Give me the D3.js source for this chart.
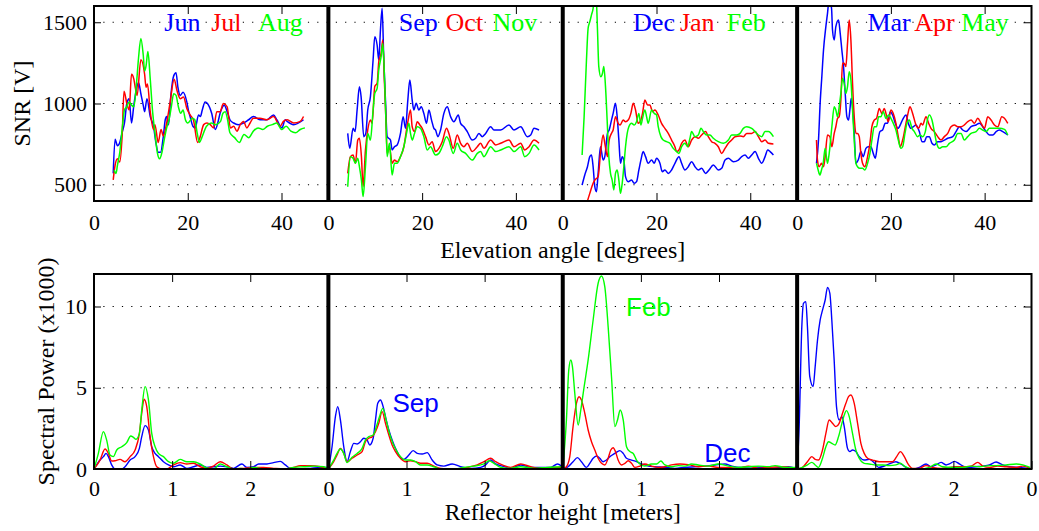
<!DOCTYPE html>
<html>
<head>
<meta charset="utf-8">
<script src="https://cdn.jsdelivr.net/npm/d3@7/dist/d3.min.js"></script>
<style>
  html, body { margin: 0; padding: 0; background: #fff; }
  svg { display: block; }
</style>
</head>
<body>
<svg id="chart" width="1039" height="531"></svg>
<script>
// ---------------- DATA ----------------
const panelMonths = [["Jun","Jul","Aug"],["Sep","Oct","Nov"],["Dec","Jan","Feb"],["Mar","Apr","May"]];
const seriesColors = ["#0000ff","#ff0000","#00ff00"];
const snrTicks = [500, 1000, 1500];
const elevTicks = [0, 20, 40];
const powTicks = [0, 5, 10];
const heightTicks = [0, 1, 2];

// SNR [V] vs elevation angle [deg]
const junSNR = [[4.1,570],[4.5,780],[5,740],[5.5,760],[6,820],[6.5,880],[7,1000],[7.5,1030],[8,880],[8.5,990],[9,1080],[9.5,1130],[10,1060],[10.5,990],[10.8,950],[11.3,1030],[12,920],[12.7,860],[13.2,760],[13.7,700],[14.2,700],[14.8,800],[15.2,900],[15.5,920],[15.9,870],[16.4,1050],[17,1170],[17.5,1190],[17.9,1100],[18.4,1050],[19,1070],[19.8,1010],[20.2,950],[20.5,920],[21.1,860],[21.6,850],[22.3,930],[22.7,920],[23.1,960],[23.7,1010],[24.2,1000],[25.1,940],[25.9,840],[26.4,880],[26.9,940],[27.8,990],[28.4,950],[29,900],[29.8,880],[30.8,870],[31.9,880],[33,900],[34,920],[35.4,900],[36.9,900],[38.3,930],[39,900],[40.1,850],[40.8,900],[41.2,890],[42.6,870],[44.7,900]];
const julSNR = [[4.1,530],[4.5,620],[5,660],[5.5,640],[6,800],[6.4,1075],[7,1000],[7.5,960],[8,1180],[8.5,1150],[8.8,1100],[9.2,1050],[10,1270],[10.8,1180],[11.1,1100],[11.4,1120],[12,950],[12.7,840],[13,870],[13.7,760],[14.3,840],[14.8,800],[15.5,880],[16.2,1000],[17.1,1150],[17.7,1080],[18.4,1030],[19.1,1040],[19.8,970],[20.5,930],[21.2,900],[22.1,760],[22.6,790],[23.4,870],[24.1,880],[24.8,870],[25.5,850],[26.2,950],[26.9,950],[27.6,1000],[28.4,980],[29.1,850],[29.8,860],[30.5,830],[31.2,870],[31.9,890],[32.6,850],[33.3,880],[34,910],[35.4,910],[36.9,900],[38.3,920],[39.7,860],[40.4,890],[41.2,900],[42.6,880],[44,890],[44.7,920]];
const augSNR = [[4.3,590],[4.7,570],[5,620],[5.5,700],[6,840],[6.5,960],[7,980],[7.5,1010],[8,990],[8.5,980],[9,1100],[9.5,1280],[10,1400],[10.5,1300],[10.8,1200],[11.1,1230],[11.5,1320],[12,1150],[12.5,950],[13,820],[13.5,700],[14,660],[14.5,700],[15,780],[15.5,850],[16,900],[16.5,980],[17,1060],[17.5,1050],[18,980],[18.5,940],[19,960],[19.5,900],[20,880],[21,910],[21.5,900],[22,820],[22.5,760],[23,790],[24,860],[25,880],[26,870],[27,890],[27.5,940],[28,950],[28.5,900],[29,820],[30,790],[31,760],[32,810],[33,790],[34,830],[35,850],[36,840],[37,860],[38,870],[39,880],[40,840],[41,860],[42,830],[43,820],[44,840],[45,850]];
const sepSNR = [[4.13,816],[4.56,724],[5.27,847],[5.7,827],[6.13,960],[6.62,1103],[6.98,1042],[7.55,796],[7.98,816],[8.4,960],[8.97,1042],[9.54,1268],[9.9,1411],[10.4,1360],[10.75,1268],[11.11,1452],[11.47,1586],[11.82,1268],[12.18,1021],[12.54,796],[13.25,775],[13.6,714],[14.1,734],[14.67,745],[15.38,816],[15.95,919],[16.45,847],[16.95,1021],[17.38,1145],[17.88,1021],[18.23,960],[18.73,1001],[19.3,960],[19.8,980],[20.37,939],[20.94,878],[21.44,960],[22.01,898],[22.51,847],[22.86,837],[23.36,796],[23.93,837],[24.64,939],[25.36,980],[26.07,919],[26.78,888],[27.71,929],[28.21,878],[28.92,857],[29.63,827],[30.7,775],[31.41,786],[32.12,816],[32.83,796],[33.55,816],[34.62,857],[35.33,837],[36.75,837],[38.53,868],[39.6,837],[41.03,857],[42.45,796],[43.16,806],[43.87,847],[44.94,837]];
const octSNR = [[4.13,570],[4.7,673],[5.27,683],[5.77,632],[6.27,775],[6.62,786],[7.05,673],[7.41,488],[7.91,714],[8.4,837],[8.97,898],[9.33,878],[9.9,1104],[10.4,1124],[10.75,1257],[11.25,1309],[11.61,1391],[11.97,1124],[12.25,919],[12.54,693],[13.03,734],[13.6,632],[14.1,652],[14.67,642],[15.38,673],[16.1,734],[16.67,837],[17.02,898],[17.52,960],[17.88,857],[18.38,827],[18.95,888],[19.52,868],[20.01,847],[20.73,796],[21.44,745],[22.15,765],[22.86,704],[23.58,724],[24.29,765],[25.21,847],[25.71,816],[26.64,724],[27.49,806],[28.21,755],[28.92,734],[29.63,755],[30.7,704],[31.77,734],[32.48,755],[33.19,724],[34.62,775],[35.68,745],[36.75,755],[38.53,775],[39.6,734],[41.03,755],[41.88,714],[42.81,734],[43.87,775],[44.94,755]];
const novSNR = [[4.13,488],[4.7,673],[5.27,663],[5.77,632],[6.27,663],[6.62,611],[7.05,529],[7.41,427],[7.91,611],[8.4,816],[8.97,775],[9.54,960],[9.9,1062],[10.4,1093],[10.75,1206],[11.25,1288],[11.61,1370],[11.97,1165],[12.32,857],[12.54,673],[13.03,755],[13.6,560],[14.1,632],[14.67,632],[15.38,673],[16.1,734],[16.67,816],[17.17,878],[17.52,816],[17.88,775],[18.38,816],[18.95,857],[19.66,847],[20.37,796],[21.08,714],[21.79,734],[22.86,683],[23.58,693],[24.29,734],[25.21,796],[25.71,775],[26.64,693],[27.49,755],[28.21,714],[29.27,693],[30.7,652],[31.77,693],[32.48,704],[33.19,673],[34.62,734],[35.68,704],[36.75,714],[38.53,734],[39.6,704],[41.03,734],[41.88,673],[42.81,693],[43.87,745],[44.94,714]];
const decSNR = [[4.13,498],[4.7,560],[5.27,611],[5.77,673],[6.13,683],[6.48,611],[6.84,488],[7.19,457],[7.55,570],[8.05,734],[8.62,652],[8.97,673],[9.54,816],[9.9,837],[10.4,898],[10.75,939],[11.25,1001],[11.61,919],[11.97,775],[12.32,632],[12.68,673],[13.03,652],[13.39,550],[13.96,519],[14.67,529],[15.24,509],[15.74,519],[16.24,591],[16.67,652],[17.17,704],[17.66,673],[18.23,632],[18.95,652],[19.52,632],[20.01,663],[20.73,632],[21.23,580],[21.79,591],[22.51,570],[23.22,591],[23.93,632],[24.79,673],[25.36,632],[26.07,591],[26.78,611],[27.49,642],[28.21,611],[28.92,591],[29.63,601],[30.48,570],[31.2,591],[32.12,622],[33.19,591],[33.9,601],[34.62,652],[35.33,663],[36.4,642],[37.46,652],[38.18,673],[38.89,683],[39.6,663],[40.31,683],[41.03,704],[41.74,663],[42.45,632],[43.16,673],[43.73,714],[44.23,704],[44.94,683]];
const janSNR = [[5.06,380],[5.77,447],[6.48,509],[6.84,529],[7.55,550],[8.05,693],[8.62,806],[8.97,755],[9.54,673],[9.9,775],[10.4,816],[10.75,837],[11.25,919],[11.82,878],[12.25,868],[12.89,898],[13.39,888],[13.96,898],[14.53,939],[15.03,1001],[15.53,960],[16.1,878],[16.67,898],[17.02,939],[17.52,1021],[18.09,991],[18.59,991],[19.16,950],[19.66,960],[20.37,929],[21.08,878],[21.79,847],[22.51,816],[23.22,775],[23.93,734],[24.29,704],[24.79,714],[25.36,755],[26.07,775],[26.78,734],[27.49,775],[28.21,796],[28.92,786],[29.63,806],[30.48,827],[31.05,796],[31.77,765],[32.48,755],[33.19,734],[33.9,693],[34.62,724],[35.33,755],[36.04,775],[36.75,796],[37.82,800],[38.53,796],[39.25,816],[40.31,816],[41.03,827],[41.74,796],[42.45,765],[43.16,775],[43.87,755],[44.94,751]];
const febSNR = [[4.13,683],[4.56,919],[5.06,1268],[5.41,1462],[5.77,1503],[6.13,1545],[6.48,1586],[6.7,1640],[7.19,1616],[7.41,1452],[7.69,1227],[8.12,1165],[8.48,1186],[8.76,1227],[9.12,1104],[9.47,898],[9.83,673],[10.19,570],[10.54,529],[10.9,468],[11.25,570],[11.61,591],[11.97,529],[12.32,447],[12.68,509],[13.03,611],[13.39,734],[13.75,816],[14.1,857],[14.67,878],[15.24,868],[15.74,888],[16.24,939],[16.67,868],[17.02,909],[17.52,960],[17.88,919],[18.23,878],[18.95,960],[19.52,939],[20.01,929],[20.37,857],[20.94,796],[21.44,775],[22.15,765],[22.86,755],[23.58,724],[24.29,704],[24.79,693],[25.36,734],[26.07,755],[26.64,734],[27.14,786],[27.49,827],[28.21,796],[28.92,806],[29.49,847],[29.99,827],[30.7,806],[31.41,806],[32.12,786],[33.19,765],[34.26,755],[35.33,775],[36.04,806],[37.11,806],[37.82,816],[38.53,847],[39.25,857],[40.31,847],[41.03,827],[41.74,806],[42.45,796],[43.16,827],[43.87,827],[44.94,796]];
const marSNR = [[4.13,632],[4.56,775],[4.91,1001],[5.27,1165],[5.63,1329],[6.13,1473],[6.48,1555],[6.84,1640],[7.34,1586],[7.55,1452],[7.91,1391],[8.26,1473],[8.83,1514],[9.19,1432],[9.54,1329],[9.9,1227],[10.26,1062],[10.61,919],[10.97,898],[11.25,960],[11.54,1032],[11.82,980],[12.18,816],[12.54,632],[13.03,652],[13.6,704],[14.1,673],[14.67,724],[15.17,734],[15.74,734],[16.24,693],[16.67,663],[17.17,755],[17.66,827],[18.23,837],[18.8,878],[19.3,878],[19.87,950],[20.37,929],[20.94,878],[21.51,847],[22.15,878],[22.65,909],[23.22,929],[23.72,878],[24.29,847],[24.79,857],[25.36,868],[26.07,827],[26.64,765],[27.14,765],[27.64,796],[28.21,796],[28.77,755],[29.27,745],[29.99,765],[30.7,765],[31.41,775],[32.12,786],[33.19,796],[33.9,827],[34.62,857],[35.33,837],[36.04,827],[37.11,857],[38.18,868],[38.89,878],[39.6,857],[40.31,827],[41.03,806],[41.74,806],[42.45,827],[43.16,837],[43.87,827],[44.94,806]];
const aprSNR = [[4.13,775],[4.34,652],[4.7,611],[5.2,632],[5.63,611],[5.98,673],[6.48,806],[6.98,796],[7.41,734],[7.91,816],[8.26,857],[8.62,909],[8.97,919],[9.33,1021],[9.69,1247],[10.04,1247],[10.4,1227],[10.75,1370],[11.11,1514],[11.47,1391],[11.82,1124],[12.18,919],[12.54,816],[12.89,816],[13.25,796],[13.6,693],[13.96,632],[14.46,611],[15.03,673],[15.53,755],[15.95,857],[16.45,898],[16.95,909],[17.52,970],[18.09,939],[18.59,970],[18.95,939],[19.44,888],[20.01,960],[20.51,939],[21.08,878],[21.58,796],[22.01,734],[22.51,775],[23.22,878],[23.58,929],[24.07,980],[24.64,939],[25.36,868],[25.93,847],[26.42,878],[26.78,868],[27.49,919],[28.06,878],[28.56,847],[29.27,827],[29.99,796],[30.7,775],[31.41,796],[32.12,816],[32.83,857],[33.55,868],[34.26,857],[34.97,857],[35.68,868],[36.4,888],[37.11,898],[37.82,878],[38.53,909],[39.25,878],[39.96,847],[40.67,919],[41.38,898],[42.09,868],[42.81,857],[43.66,919],[44.23,909],[44.94,878]];
const maySNR = [[4.13,632],[4.49,591],[4.84,560],[5.2,591],[5.56,632],[5.98,724],[6.48,632],[6.84,693],[7.41,857],[7.91,980],[8.26,960],[8.62,919],[8.97,980],[9.33,1062],[9.69,1155],[10.04,1124],[10.4,1062],[10.75,1104],[11.11,1196],[11.47,1145],[11.82,960],[12.18,775],[12.54,632],[12.89,611],[13.39,601],[13.96,601],[14.46,591],[15.03,632],[15.53,693],[15.95,775],[16.45,857],[16.95,857],[17.38,919],[17.88,919],[18.38,950],[18.95,909],[19.52,929],[20.01,909],[20.51,878],[21.08,837],[21.58,775],[22.15,724],[22.51,734],[23.01,816],[23.43,878],[23.93,898],[24.5,847],[25,827],[25.71,796],[26.21,806],[26.78,796],[27.35,827],[27.78,898],[28.21,929],[28.77,898],[29.27,827],[29.77,755],[30.34,724],[31.05,734],[31.77,734],[32.48,755],[33.55,775],[34.26,816],[34.97,816],[35.68,775],[36.4,796],[37.11,816],[38.18,827],[38.89,847],[39.6,837],[40.31,827],[41.03,847],[42.09,847],[43.16,847],[44.23,841],[44.94,806]];

// Spectral power (x1000) vs reflector height [m]
const junPow = [[0,0],[.077,.55],[.12,.76],[.154,.96],[.184,.76],[.226,.25],[.269,0],[.355,0],[.397,.14],[.462,.55],[.526,.76],[.581,1.27],[.611,1.99],[.654,2.67],[.697,2.40],[.739,1.37],[.782,.96],[.825,.76],[.889,.45],[.953,.25],[1.017,.14],[1.103,.25],[1.188,.04],[1.274,.14],[1.359,.25],[1.444,.10],[1.53,.14],[1.615,.18],[1.701,.14],[1.786,.04],[1.893,.31],[1.957,.10],[2.043,.14],[2.107,.31],[2.214,.31],[2.299,.39],[2.385,.47],[2.449,.25],[2.513,.04],[2.641,0],[2.769,.04],[2.897,.10],[2.983,.10]];
const julPow = [[0,0],[.077,.55],[.141,1.23],[.184,.96],[.226,.49],[.269,.51],[.333,.59],[.397,.45],[.462,.76],[.526,1.17],[.581,2.19],[.611,3.43],[.641,4.29],[.675,3.84],[.718,1.99],[.761,.76],[.803,.14],[.868,0],[.932,0],[1.017,.25],[1.103,.39],[1.188,.31],[1.274,.35],[1.359,.14],[1.444,.04],[1.53,.18],[1.615,.45],[1.701,.25],[1.786,0],[1.915,.04],[2.043,.10],[2.171,.10],[2.299,.04],[2.427,0],[2.556,.10],[2.641,.21],[2.769,.21],[2.897,.14],[2.983,.04]];
const augPow = [[0,0],[.056,.96],[.12,2.30],[.162,1.78],[.205,.86],[.248,.76],[.291,1.17],[.355,1.37],[.419,1.62],[.47,2.03],[.504,1.95],[.538,1.83],[.581,2.19],[.611,3.63],[.654,5.07],[.697,4.25],[.739,2.19],[.782,1.37],[.825,.96],[.889,.76],[.953,.45],[1.017,.35],[1.103,.59],[1.188,.45],[1.274,.45],[1.359,.31],[1.444,.06],[1.53,0],[1.615,.31],[1.701,.14],[1.786,0],[1.872,.04],[1.957,0],[2.043,.10],[2.171,0],[2.299,0],[2.427,0],[2.556,.10],[2.684,.14],[2.812,.18],[2.94,.14],[2.983,.04]];
const sepPow = [[0,0],[.047,1.37],[.09,3.22],[.12,3.84],[.154,3.02],[.197,1.37],[.239,.45],[.282,1.07],[.325,1.58],[.368,1.54],[.41,1.68],[.453,1.89],[.496,1.78],[.53,1.48],[.573,1.89],[.603,3.02],[.632,4.04],[.667,4.25],[.701,3.84],[.731,3.22],[.774,2.40],[.816,1.78],[.859,1.27],[.902,.86],[.966,.59],[1.03,.86],[1.085,1.13],[1.137,.96],[1.201,.92],[1.265,1.01],[1.329,.55],[1.393,.25],[1.479,.18],[1.585,.31],[1.692,.14],[1.821,.04],[1.949,.10],[2.013,.25],[2.077,.55],[2.141,.31],[2.226,.18],[2.333,.04],[2.462,.25],[2.59,.10],[2.718,.10],[2.846,.10],[2.932,.31],[2.983,.18]];
const octPow = [[0,0],[.068,.45],[.111,.86],[.154,1.27],[.197,.96],[.239,.45],[.303,.66],[.368,.86],[.432,1.07],[.474,1.68],[.517,1.89],[.56,1.99],[.603,2.30],[.645,2.81],[.688,3.53],[.731,2.81],[.774,2.09],[.816,1.48],[.859,1.07],[.923,.66],[.987,.45],[1.051,.51],[1.115,.45],[1.179,.35],[1.265,.35],[1.35,.18],[1.436,.04],[1.607,0],[1.778,.10],[1.906,.25],[1.991,.45],[2.077,.66],[2.141,.45],[2.226,.25],[2.333,.10],[2.462,.31],[2.59,.14],[2.718,.04],[2.889,.10],[2.983,.10]];
const novPow = [[0,0],[.068,.55],[.111,.96],[.154,1.23],[.197,.96],[.239,.39],[.303,.72],[.368,.96],[.432,1.27],[.474,1.78],[.517,1.99],[.573,2.09],[.615,2.61],[.654,3.22],[.697,3.73],[.739,3.02],[.782,2.19],[.825,1.58],[.868,1.17],[.923,.76],[.987,.55],[1.051,.55],[1.115,.45],[1.179,.25],[1.265,.25],[1.35,.14],[1.436,0],[1.607,0],[1.735,.10],[1.863,.18],[1.991,.31],[2.056,.51],[2.12,.35],[2.205,.10],[2.333,.04],[2.462,.14],[2.632,.04],[2.803,.10],[2.983,.14]];
const decPow = [[0,0],[.068,.14],[.132,.45],[.188,.70],[.239,.45],[.303,.10],[.346,.35],[.389,.66],[.432,.80],[.474,.66],[.517,.45],[.56,.55],[.603,.76],[.667,.96],[.731,1.13],[.774,.96],[.816,.66],[.88,.55],[.944,.45],[1.009,.31],[1.094,.18],[1.179,.14],[1.308,.10],[1.436,.04],[1.564,.10],[1.692,.14],[1.821,.18],[1.949,.25],[2.077,.31],[2.162,.18],[2.291,.10],[2.418,.14],[2.547,.10],[2.675,.04],[2.803,.10],[2.889,.14],[2.983,.04]];
const janPow = [[0,0],[.047,.14],[.09,.76],[.132,2.61],[.175,4.04],[.209,4.45],[.239,4.25],[.282,3.43],[.325,2.40],[.368,1.68],[.41,1.17],[.453,.66],[.496,.35],[.538,.25],[.581,.66],[.615,1.17],[.645,1.31],[.675,1.07],[.709,.55],[.752,.25],[.795,.35],[.838,.51],[.88,.35],[.923,.10],[.987,.18],[1.051,.31],[1.137,.18],[1.222,.10],[1.308,.14],[1.393,.25],[1.5,.31],[1.607,.27],[1.735,.14],[1.863,.18],[1.991,.10],[2.12,.10],[2.248,.04],[2.376,.18],[2.504,.04],[2.632,.10],[2.803,.14],[2.983,.04]];
const febPow = [[0,0],[.047,3.02],[.077,6.09],[.103,6.71],[.124,6.30],[.154,4.66],[.197,2.71],[.231,3.63],[.274,5.07],[.325,6.71],[.389,9.17],[.453,11.43],[.496,11.88],[.538,11.22],[.581,8.76],[.624,5.68],[.667,2.61],[.701,3.02],[.735,3.63],[.774,3.02],[.816,1.37],[.859,1.07],[.902,.96],[.944,.55],[.987,.31],[1.051,.18],[1.137,.31],[1.201,.31],[1.256,.49],[1.308,.25],[1.393,.14],[1.479,.21],[1.564,.18],[1.65,.31],[1.735,.25],[1.863,.18],[1.991,.31],[2.12,.18],[2.248,.10],[2.376,.14],[2.504,.18],[2.632,.14],[2.718,.21],[2.846,.10],[2.983,.10]];
const marPow = [[0,0],[.026,2.61],[.06,8.76],[.081,10.19],[.111,10.30],[.132,8.76],[.162,5.68],[.205,5.07],[.231,6.30],[.261,7.94],[.295,9.17],[.325,9.78],[.359,10.40],[.389,11.18],[.419,10.81],[.444,9.17],[.474,6.71],[.504,3.84],[.538,3.02],[.573,3.22],[.603,2.61],[.645,1.27],[.675,1.07],[.709,1.17],[.752,1.07],[.795,.76],[.859,.55],[.923,.59],[.987,.39],[1.043,.10],[1.115,.18],[1.179,.31],[1.265,.45],[1.329,.31],[1.393,.10],[1.479,0],[1.564,.10],[1.65,.31],[1.714,.14],[1.778,.25],[1.842,.41],[1.906,.25],[1.949,.31],[2.013,.47],[2.077,.31],[2.141,.14],[2.205,.10],[2.291,.14],[2.376,.18],[2.462,.25],[2.547,.43],[2.632,.25],[2.718,.14],[2.846,.10],[2.983,.04]];
const aprPow = [[0,0],[.068,.10],[.132,.45],[.188,.76],[.231,.59],[.274,.55],[.325,1.17],[.368,2.19],[.41,3.02],[.453,2.81],[.496,2.61],[.538,2.81],[.581,3.43],[.624,4.04],[.658,4.45],[.688,4.55],[.731,4.04],[.774,2.81],[.816,1.58],[.859,.96],[.902,.66],[.966,.55],[1.051,.45],[1.137,.45],[1.222,.45],[1.274,.76],[1.321,1.07],[1.372,.76],[1.415,.35],[1.479,.04],[1.564,.04],[1.65,.21],[1.735,.10],[1.842,.04],[1.949,.10],[2.034,.14],[2.12,.14],[2.226,.18],[2.312,.41],[2.376,.18],[2.462,.10],[2.568,.18],[2.675,.14],[2.803,.10],[2.889,.18],[2.983,.04]];
const mayPow = [[0,0],[.068,.10],[.132,.25],[.188,.41],[.231,.25],[.274,.10],[.325,.66],[.368,1.37],[.402,1.68],[.444,1.58],[.487,1.48],[.53,1.99],[.573,2.81],[.603,3.32],[.632,3.59],[.667,3.22],[.709,2.19],[.752,1.17],[.795,.66],[.859,.35],[.923,.31],[1.009,.25],[1.094,.25],[1.179,.21],[1.265,.25],[1.321,.35],[1.372,.18],[1.436,.04],[1.564,0],[1.692,.10],[1.778,.31],[1.863,.14],[1.991,.10],[2.12,.10],[2.226,.18],[2.333,.14],[2.462,.21],[2.547,.21],[2.675,.25],[2.803,.31],[2.889,.25],[2.983,.10]];

const snrData = [[junSNR,julSNR,augSNR],[sepSNR,octSNR,novSNR],[decSNR,janSNR,febSNR],[marSNR,aprSNR,maySNR]];
const powData = [[junPow,julPow,augPow],[sepPow,octPow,novPow],[decPow,janPow,febPow],[marPow,aprPow,mayPow]];
// legend labels in top panels (at elevation angles), annotation labels in bottom panels
const legendAngles = [15, 25, 35];
const legendSNR = 1500;
const annotations = [
  {panel:1, series:0, label:"Sep", h:0.82, p:4.1},
  {panel:2, series:2, label:"Feb", h:0.81, p:10.0},
  {panel:2, series:0, label:"Dec", h:1.81, p:1.0}
];

// ---------------- LAYOUT ----------------
const svg = d3.select("#chart");
const left = 94, right = 1031.5;
const nP = 4, pw = (right - left) / nP;
const topBox = {y0: 6, y1: 201};
const botBox = {y0: 274, y1: 469};
const yTop = d3.scaleLinear().domain([400, 1600]).range([topBox.y1, topBox.y0]);
const yBot = d3.scaleLinear().domain([0, 12]).range([botBox.y1, botBox.y0]);
const xTop = i => d3.scaleLinear().domain([0, 50]).range([left + i*pw, left + (i+1)*pw]);
const xBot = i => d3.scaleLinear().domain([0, 3]).range([left + i*pw, left + (i+1)*pw]);
const serif = '"Liberation Serif", "Times New Roman", Times, serif';
const sans = '"Liberation Sans", Arial, Helvetica, sans-serif';
const fmt = d3.format("d");

const defs = svg.append("defs");
for (let i = 0; i < nP; i++) {
  defs.append("clipPath").attr("id", "ct"+i).append("rect")
    .attr("x", left + i*pw).attr("y", topBox.y0).attr("width", pw).attr("height", topBox.y1 - topBox.y0);
  defs.append("clipPath").attr("id", "cb"+i).append("rect")
    .attr("x", left + i*pw).attr("y", botBox.y0).attr("width", pw).attr("height", botBox.y1 - botBox.y0);
}

// grid (dotted horizontal)
function grid(yScale, vals) {
  svg.append("g").selectAll("line").data(vals).join("line")
    .attr("x1", left).attr("x2", right)
    .attr("y1", d => yScale(d)).attr("y2", d => yScale(d))
    .attr("stroke", "#000").attr("stroke-width", 1.1)
    .attr("stroke-dasharray", "1.2,8.1");
}
grid(yTop, snrTicks);
grid(yBot, powTicks.filter(d => d > 0));

// curves
const lineTop = (xs) => d3.line().x(d => xs(d[0])).y(d => yTop(d[1])).curve(d3.curveMonotoneX);
const lineBot = (xs) => d3.line().x(d => xs(d[0])).y(d => yBot(d[1])).curve(d3.curveMonotoneX);
for (let i = 0; i < nP; i++) {
  const gt = svg.append("g").attr("clip-path", `url(#ct${i})`);
  snrData[i].forEach((s, k) => {
    gt.append("path").datum(s).attr("d", lineTop(xTop(i)))
      .attr("fill", "none").attr("stroke", seriesColors[k]).attr("stroke-width", 1.5).attr("stroke-linejoin", "round");
  });
  const gb = svg.append("g").attr("clip-path", `url(#cb${i})`);
  powData[i].forEach((s, k) => {
    gb.append("path").datum(s).attr("d", lineBot(xBot(i)))
      .attr("fill", "none").attr("stroke", seriesColors[k]).attr("stroke-width", 1.4).attr("stroke-linejoin", "round");
  });
}

// axes
function styleAxis(g, fs) {
  g.select(".domain").remove();
  g.selectAll(".tick line").attr("stroke", "#000").attr("stroke-width", 1);
  g.selectAll(".tick text").attr("font-family", serif).attr("font-size", fs).attr("fill", "#000");
}
for (let i = 0; i < nP; i++) {
  const xt = xTop(i);
  svg.append("g").attr("transform", `translate(0,${topBox.y1})`)
    .call(d3.axisBottom(xt).tickValues(elevTicks).tickSize(-8).tickPadding(13.5).tickFormat(fmt))
    .call(g => styleAxis(g, 22));
  svg.append("g").attr("transform", `translate(0,${topBox.y0})`)
    .call(d3.axisTop(xt).tickValues(elevTicks.filter(d => d > 0)).tickSize(-8).tickFormat(""))
    .call(g => styleAxis(g, 22));
  const xb = xBot(i);
  const bt = i === nP - 1 ? heightTicks.concat([3]) : heightTicks;
  svg.append("g").attr("transform", `translate(0,${botBox.y1})`)
    .call(d3.axisBottom(xb).tickValues(bt).tickSize(-8).tickPadding(11).tickFormat(d => d === 3 ? "0" : fmt(d)))
    .call(g => styleAxis(g, 22));
  svg.append("g").attr("transform", `translate(0,${botBox.y0})`)
    .call(d3.axisTop(xb).tickValues(heightTicks.filter(d => d > 0)).tickSize(-8).tickFormat(""))
    .call(g => styleAxis(g, 22));
}
svg.append("g").attr("transform", `translate(${left},0)`)
  .call(d3.axisLeft(yTop).tickValues(snrTicks).tickSize(-7).tickPadding(7).tickFormat(fmt))
  .call(g => styleAxis(g, 22));
svg.append("g").attr("transform", `translate(${right},0)`)
  .call(d3.axisRight(yTop).tickValues(snrTicks).tickSize(-8).tickFormat(""))
  .call(g => styleAxis(g, 22));
svg.append("g").attr("transform", `translate(${left},0)`)
  .call(d3.axisLeft(yBot).tickValues(powTicks).tickSize(-7).tickPadding(7).tickFormat(fmt))
  .call(g => styleAxis(g, 22));
svg.append("g").attr("transform", `translate(${right},0)`)
  .call(d3.axisRight(yBot).tickValues(powTicks).tickSize(-8).tickFormat(""))
  .call(g => styleAxis(g, 22));

// frames and thick separators
[topBox, botBox].forEach(b => {
  svg.append("rect").attr("x", left).attr("y", b.y0).attr("width", right - left).attr("height", b.y1 - b.y0)
    .attr("fill", "none").attr("stroke", "#000").attr("stroke-width", 2);
  for (let i = 1; i < nP; i++) {
    svg.append("line").attr("x1", left + i*pw).attr("x2", left + i*pw)
      .attr("y1", b.y0).attr("y2", b.y1).attr("stroke", "#000").attr("stroke-width", 4);
  }
});

// legends in top panels
for (let i = 0; i < nP; i++) {
  const xt = xTop(i);
  panelMonths[i].forEach((m, k) => {
    svg.append("text").attr("x", xt(legendAngles[k])).attr("y", yTop(legendSNR) + 8.6)
      .attr("font-family", serif).attr("font-size", 26).attr("fill", seriesColors[k]).text(m);
  });
}
// annotations in bottom panels
annotations.forEach(a => {
  const xb = xBot(a.panel);
  svg.append("text").attr("x", xb(a.h)).attr("y", yBot(a.p) + 9.4)
    .attr("font-family", sans).attr("font-size", 26).attr("fill", seriesColors[a.series]).text(a.label);
});

// axis titles
const cx = (left + right) / 2;
svg.append("text").attr("x", cx).attr("y", 258).attr("text-anchor", "middle")
  .attr("font-family", serif).attr("font-size", 24).text("Elevation angle [degrees]");
svg.append("text").attr("x", cx).attr("y", 520).attr("text-anchor", "middle")
  .attr("font-family", serif).attr("font-size", 23.5).text("Reflector height [meters]");
svg.append("text").attr("transform", `translate(30,${(topBox.y0+topBox.y1)/2}) rotate(-90)`).attr("text-anchor", "middle")
  .attr("font-family", serif).attr("font-size", 24).text("SNR [V]");
svg.append("text").attr("transform", `translate(54,${(botBox.y0+botBox.y1)/2}) rotate(-90)`).attr("text-anchor", "middle")
  .attr("font-family", serif).attr("font-size", 24).text("Spectral Power (x1000)");
</script>
</body>
</html>
